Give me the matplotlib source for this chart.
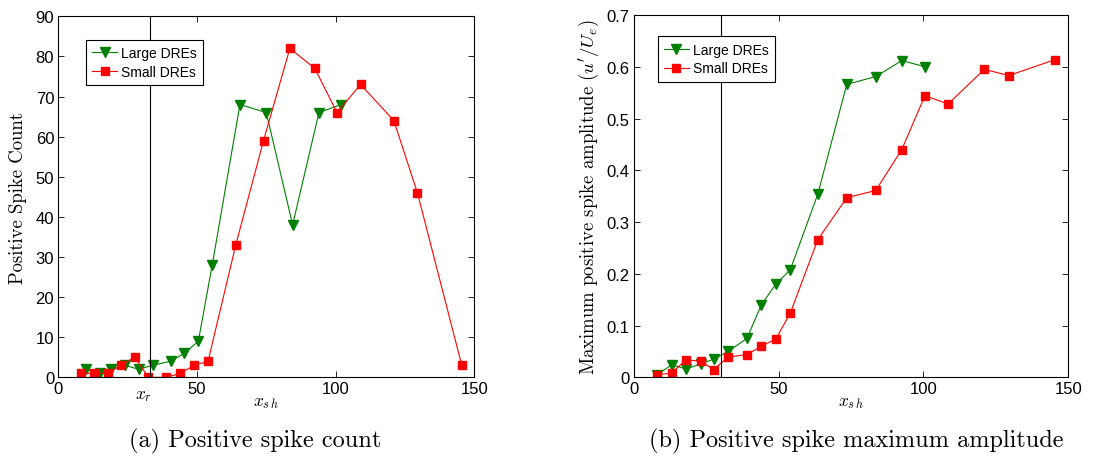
import matplotlib
matplotlib.use("Agg")
import matplotlib.pyplot as plt

# (a) positive spike count
large_x_a = [10, 15, 19, 24, 29, 34, 40.5, 45.5, 50.5, 55.5, 65.5, 75, 84.5, 94, 102]
large_y_a = [2, 1, 2, 3, 2, 3, 4, 6, 9, 28, 68, 66, 38, 66, 68]
small_x_a = [8, 13, 18, 22.5, 27.5, 32.5, 39, 44, 49, 54, 64, 74, 83.5, 92.5, 100.5, 109, 121, 129.5, 145.5]
small_y_a = [1, 1, 1, 3, 5, 0, 0, 1, 3, 4, 33, 59, 82, 77, 66, 73, 64, 46, 3]

# (b) positive spike maximum amplitude
large_x_b = [8, 13, 18, 23, 27.5, 32.5, 39, 44, 49, 54, 63.5, 73.5, 83.5, 92.5, 100.5]
large_y_b = [0.005, 0.024, 0.016, 0.026, 0.035, 0.05, 0.075, 0.14, 0.18, 0.208, 0.354, 0.566, 0.581, 0.612, 0.6]
small_x_b = [8, 13, 18, 23, 27.5, 32.5, 39, 44, 49, 54, 63.5, 73.5, 83.5, 92.5, 100.5, 108.5, 121, 129.5, 145.5]
small_y_b = [0.005, 0.008, 0.034, 0.031, 0.015, 0.039, 0.044, 0.06, 0.074, 0.124, 0.266, 0.347,
             0.361, 0.44, 0.544, 0.528, 0.595, 0.583, 0.614]

x_r_a = 33
x_r_b = 30

green = "#008000"
red = "#ff0000"

plt.rcParams["font.family"] = ["Liberation Sans", "DejaVu Sans"]
plt.rcParams["mathtext.fontset"] = "cm"
plt.rcParams["axes.linewidth"] = 0.8

fig = plt.figure(figsize=(11.13, 4.6), dpi=100)
ax1 = fig.add_axes([0.0524, 0.1776, 0.3737, 0.7848])
ax2 = fig.add_axes([0.5696, 0.1776, 0.3902, 0.7876])


def style(ax):
    ax.tick_params(direction="in", top=True, right=True, labelsize=12,
                   length=4, width=0.6, pad=3)
    ax.set_xlim(0, 150)
    ax.set_xticks([0, 50, 100, 150])


def add_legend(ax, anchor):
    leg = ax.legend(loc="upper left", bbox_to_anchor=anchor, fontsize=10,
                    fancybox=False, edgecolor="black", framealpha=1, borderaxespad=0,
                    handlelength=1.8, handletextpad=0.3, borderpad=0.45, labelspacing=0.35)
    leg.get_frame().set_linewidth(0.8)


ax1.plot(large_x_a, large_y_a, "-v", color=green, lw=0.8, ms=7.5, label="Large DREs")
ax1.plot(small_x_a, small_y_a, "-s", color=red, lw=0.8, ms=5.5, label="Small DREs")
ax1.axvline(x_r_a, color="black", lw=0.8)
style(ax1)
ax1.set_ylim(0, 90)
ax1.set_yticks(range(0, 91, 10))
ax1.set_ylabel("Positive Spike Count", family="cmr10", fontsize=13.5, labelpad=6)
ax1.set_xlabel(r"$x_{s\,h}$", fontsize=12.5, labelpad=-1)
ax1.text(30.7, -0.03, r"$x_r$", transform=ax1.get_xaxis_transform(),
         ha="center", va="top", fontsize=12.5)
add_legend(ax1, (0.066, 0.935))

ax2.plot(large_x_b, large_y_b, "-v", color=green, lw=0.8, ms=7.5, label="Large DREs")
ax2.plot(small_x_b, small_y_b, "-s", color=red, lw=0.8, ms=5.5, label="Small DREs")
ax2.axvline(x_r_b, color="black", lw=0.8)
style(ax2)
ax2.set_ylim(0, 0.7)
ax2.set_yticks([0, 0.1, 0.2, 0.3, 0.4, 0.5, 0.6, 0.7])
ax2.set_yticklabels(["0", "0.1", "0.2", "0.3", "0.4", "0.5", "0.6", "0.7"])
ax2.set_ylabel(r"Maximum positive spike amplitude ($u'/U_e$)", family="cmr10",
               fontsize=13.5, labelpad=4)
ax2.set_xlabel(r"$x_{s\,h}$", fontsize=12.5, labelpad=-1)
add_legend(ax2, (0.0546, 0.941))

fig.text(0.229, 0.041, "(a) Positive spike count", family="cmr10", fontsize=17.5,
         ha="center", va="center")
fig.text(0.769, 0.041, "(b) Positive spike maximum amplitude", family="cmr10", fontsize=17.5,
         ha="center", va="center")

fig.savefig("out.png", dpi=100)
